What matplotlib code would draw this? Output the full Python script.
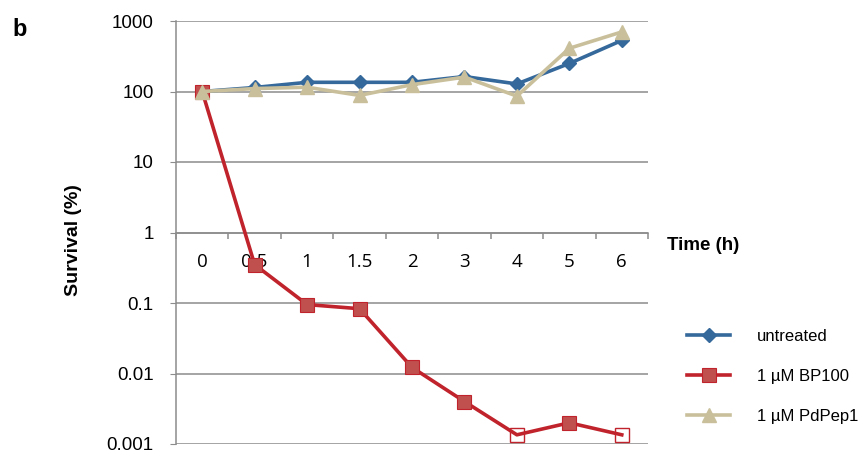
import numpy as np
import matplotlib
matplotlib.use('Agg')
import matplotlib.pyplot as plt
from matplotlib.ticker import FixedLocator, FixedFormatter

#==================================================

time_labels = ['0', '0.5', '1', '1.5', '2', '3', '4', '5', '6']
untreated = [100, 114, 135, 135, 135, 163, 128, 250, 530]
bp100 = [100, 0.35, 0.095, 0.083, 0.0122, 0.0040, 0.00135, 0.0020, 0.00135]
bp100_open = [6, 8]   # points drawn as open squares
pdpep1 = [100, 110, 115, 88, 125, 160, 86, 410, 700]
y_ticks = [0.001, 0.01, 0.1, 1, 10, 100, 1000]
y_labels = ['0.001', '0.01', '0.1', '1', '10', '100', '1000']

c_blue = '#35689B'
c_red = '#C0232B'
c_redface = '#C0504D'
c_beige = '#C9C09B'
c_grid = '#8C8C8C'

#==================================================

fig = plt.figure(figsize=(8.62, 4.55), dpi=100)
ax = fig.add_axes([176/862, 1-444/455, 472/862, 423/455])

x = np.arange(len(time_labels))

ax.plot(x, untreated, color=c_blue, lw=2.6, marker='D', ms=7,
		mfc=c_blue, mec=c_blue, label='untreated', zorder=3)

filled = [i for i in range(len(x)) if i not in bp100_open]
ax.plot(x, bp100, color=c_red, lw=2.6, marker='s', ms=10,
		mfc=c_redface, mec=c_red, mew=0.8, markevery=filled,
		label='1 \u00b5M BP100', zorder=4)
ax.plot(x[bp100_open], np.array(bp100)[bp100_open], ls='none', marker='s',
		ms=10, mfc='none', mec=c_red, mew=1.0, zorder=4)

ax.plot(x, pdpep1, color=c_beige, lw=2.6, marker='^', ms=10,
		mfc=c_beige, mec=c_beige, label='1 \u00b5M PdPep1', zorder=5)

ax.set_yscale('log')
ax.set_ylim(0.001, 1000)
ax.set_xlim(-0.5, len(x)-0.5)

ax.yaxis.set_major_locator(FixedLocator(y_ticks))
ax.yaxis.set_major_formatter(FixedFormatter(y_labels))
ax.yaxis.set_minor_locator(FixedLocator([]))
ax.tick_params(axis='y', which='major', length=4, color=c_grid, pad=12,
			   labelsize=13.5, labelfontfamily='Liberation Sans')
ax.grid(axis='y', color=c_grid, lw=1.1)

# x axis crosses at 1
ax.spines['bottom'].set_position(('data', 1))
ax.spines['bottom'].set_color(c_grid)
ax.spines['bottom'].set_linewidth(1.1)
ax.spines['left'].set_color(c_grid)
ax.spines['left'].set_linewidth(1.1)
ax.spines['top'].set_visible(False)
ax.spines['right'].set_visible(False)

ax.set_xticks(x)
ax.set_xticklabels(time_labels)
ax.set_xticks(np.arange(len(x)+1) - 0.5, minor=True)
ax.tick_params(axis='x', which='major', length=0, pad=15, labelsize=13.5,
			   labelfontfamily='Open Sans')
ax.tick_params(axis='x', which='minor', length=4, color=c_grid, width=1.1)

fig.text(73/862, 1-240/455, 'Survival (%)', fontsize=14, fontweight='bold',
		 family='Liberation Sans', va='center', ha='center', rotation=90)
fig.text(667/862, 1-245/455, 'Time (h)', fontsize=13.5, fontweight='bold',
		 family='Liberation Sans', va='center', ha='left')
fig.text(12/862, 1-30/455, 'b', fontsize=17, fontweight='bold',
		 family='Liberation Sans', va='center', ha='left')

leg = fig.legend(loc='upper left', bbox_to_anchor=(672/862, 1-314/455),
				 frameon=False, numpoints=1, handlelength=2.6,
				 handletextpad=1.6, labelspacing=1.5,
				 prop={'family': 'Liberation Sans', 'size': 12})

fig.savefig('out.png', dpi=100)
